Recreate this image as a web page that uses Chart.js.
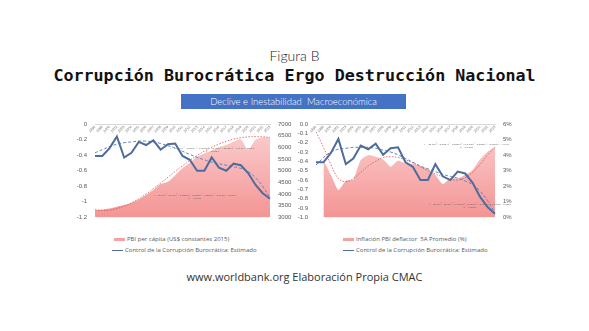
<!DOCTYPE html>
<html>
<head>
<meta charset="utf-8">
<script src="https://cdn.jsdelivr.net/npm/chart.js@4.4.1/dist/chart.umd.min.js"></script>
<style>
  body { margin: 0; background: #fff; width: 589px; height: 331px; position: relative; overflow: hidden; font-family: "Open Sans", sans-serif; }
  .abs { position: absolute; }
  #fig { left: 0; width: 589px; top: 47px; text-align: center; font-family: Lato, sans-serif; font-weight: 300; font-size: 14px; color: #222; }
  #titulo { left: 0; width: 589px; top: 65px; text-align: center; font-family: "DejaVu Sans Mono", monospace; font-weight: bold; font-size: 16.7px; color: #111; }
  #caja { left: 181px; top: 94px; width: 225px; height: 15px; background: #4472c4; color: #fff; text-align: center; font-family: Lato, sans-serif; font-weight: 300; font-size: 9.5px; line-height: 15px; }
  .leg { font-size: 6px; color: #595959; white-space: nowrap; }
  .sw { display: inline-block; width: 11px; vertical-align: middle; margin-right: 2px; }
  #fuente { left: 10px; width: 589px; top: 269px; text-align: center; font-size: 11px; color: #333; }
</style>
</head>
<body>
<div id="fig" class="abs">Figura B</div>
<div id="titulo" class="abs">Corrupción Burocrática Ergo Destrucción Nacional</div>
<div id="caja" class="abs">Declive e Inestabilidad&nbsp; Macroeconómica</div>

<div class="abs" style="left:60px; top:112px; width:240px; height:117px;"><canvas id="graficoA"></canvas></div>
<div class="abs" style="left:290px; top:112px; width:230px; height:117px;"><canvas id="graficoB"></canvas></div>

<div class="abs leg" style="left:114px; top:235px;"><span class="sw" style="height:3px;background:#f4a3a3;"></span>PBI per cápita (US$ constantes 2015)</div>
<div class="abs leg" style="left:112px; top:246px;"><span class="sw" style="height:1px;background:#4e6b9c;"></span>Control de la Corrupción Burocrática: Estimado</div>
<div class="abs leg" style="left:343px; top:235px;"><span class="sw" style="height:3px;background:#f4a3a3;"></span>Inflación PBI deflactor&nbsp; 5A Promedio (%)</div>
<div class="abs leg" style="left:343px; top:246px;"><span class="sw" style="height:1px;background:#4e6b9c;"></span>Control de la Corrupción Burocrática: Estimado</div>

<div id="fuente" class="abs">www.worldbank.org Elaboración Propia CMAC</div>

<script>
// años
const anios = ['1996','1998','2000','2002','2003','2004','2005','2006','2007','2008','2009','2010','2011',
  '2012','2013','2014','2015','2016','2017','2018','2019','2020','2021','2022','2023'];

// Control de la Corrupción: Estimado
const control = [-0.41,-0.41,-0.31,-0.16,-0.43,-0.37,-0.23,-0.27,-0.21,-0.33,-0.26,-0.25,-0.41,
  -0.46,-0.60,-0.60,-0.43,-0.56,-0.60,-0.51,-0.53,-0.63,-0.78,-0.89,-0.96];

// PBI per cápita (US$ constantes 2015)
const pbi = [3310,3340,3380,3460,3530,3630,3770,3960,4170,4430,4530,4810,5100,
  5340,5600,5740,5860,6000,6100,6240,6340,5910,6310,6430,6430];

// Inflación PBI deflactor 5A promedio (%)
const inflacion = [null,3.69,2.72,1.76,2.36,2.44,3.69,4.0,3.9,3.73,3.26,3.64,3.47,
  3.43,3.3,3.09,2.72,2.14,2.5,2.5,2.72,3.04,3.73,4.22,4.54];

// líneas de tendencia
const tendControlA = [-0.37,-0.33,-0.29,-0.26,-0.24,-0.23,-0.22,-0.22,-0.23,-0.25,-0.28,-0.31,-0.35,
  -0.39,-0.43,-0.46,-0.49,-0.51,-0.53,-0.55,-0.57,-0.61,-0.69,-0.80,-0.95];
const tendPbi = [3330,3290,3310,3380,3480,3620,3800,4000,4230,4470,4720,4970,5210,
  5440,5650,5840,6000,6140,6260,6350,6410,6450,6460,6450,6430];
const tendControlB = [-0.44,-0.36,-0.30,-0.27,-0.26,-0.25,-0.25,-0.25,-0.26,-0.28,-0.30,-0.33,-0.37,
  -0.41,-0.45,-0.48,-0.51,-0.54,-0.56,-0.58,-0.61,-0.65,-0.72,-0.82,-0.95];
const tendInflacion = [5.5,4.5,3.4,2.5,2.3,2.5,2.9,3.3,3.6,3.85,3.9,3.85,3.7,
  3.5,3.25,3.0,2.8,2.6,2.45,2.4,2.55,2.9,3.4,4.0,4.5];

// ejes
const ticksIzqA = [0,-0.2,-0.4,-0.6,-0.8,-1,-1.2];
const ticksDerA = [7000,6500,6000,5500,5000,4500,4000,3500,3000];
const ticksIzqB = [0,-0.1,-0.2,-0.3,-0.4,-0.5,-0.6,-0.7,-0.8,-0.9,-1.0];
const ticksDerB = [6,5,4,3,2,1,0];

// ecuaciones de tendencia (ilegibles en el original)
const ecuacionesA = [
  {t: 'y = 0.0004x⁶ - 0.0297x⁵ + 0.8566x⁴ - 12.156x³ + 86.281x² - 246.8x + 3555.3', t2: 'R² = 0.9959', x: 0.67, y: 0.27},
  {t: 'y = 2E-07x⁶ - 2E-05x⁵ + 0.0005x⁴ - 0.0063x³ + 0.0352x² - 0.0709x - 0.3352', t2: 'R² = 0.8707', x: 0.57, y: 0.77}
];
const ecuacionesB = [
  {t: 'y = -2E-06x⁶ + 0.0001x⁵ - 0.0037x⁴ + 0.0468x³ - 0.2806x² + 0.6587x + 4.9167', t2: 'R² = 0.7238', x: 0.84, y: 0.22},
  {t: 'y = 2E-07x⁶ - 2E-05x⁵ + 0.0005x⁴ - 0.0063x³ + 0.0352x² - 0.0709x - 0.3352', t2: 'R² = 0.8707', x: 0.86, y: 0.87}
];

const gris = '#595959';
const azul = '#4e6b9c';

function degradado(ctx) {
  const area = ctx.chart.chartArea;
  if (!area) return 'rgba(246,170,170,0.8)';
  const g = ctx.chart.ctx.createLinearGradient(0, area.top, 0, area.bottom);
  g.addColorStop(0, 'rgba(251,210,210,1)');
  g.addColorStop(1, 'rgba(244,148,148,1)');
  return g;
}

function fijarTicks(lista) {
  return function (s) { s.ticks = lista.map(v => ({value: v})); };
}

function pluginEcuaciones(lista) {
  return {
    id: 'ecuaciones',
    afterDatasetsDraw(chart) {
      const c = chart.ctx, a = chart.chartArea;
      c.save();
      c.font = '2.5px "Open Sans"';
      c.fillStyle = '#666';
      c.textAlign = 'center';
      lista.forEach(e => {
        const x = a.left + e.x * (a.right - a.left);
        const y = a.top + e.y * (a.bottom - a.top);
        c.fillText(e.t, x, y);
        c.fillText(e.t2, x, y + 3);
      });
      c.restore();
    }
  };
}

function opciones(minI, maxI, ticksI, fmtI, minD, maxD, ticksD, fmtD, anchoI, anchoD) {
  return {
    responsive: true,
    maintainAspectRatio: false,
    animation: false,
    layout: { padding: { top: 12, bottom: 5, left: 0, right: 0 } },
    plugins: { legend: { display: false }, tooltip: { enabled: false } },
    elements: { point: { radius: 0 } },
    scales: {
      x: {
        position: { y: 0 },
        offset: false,
        grid: { display: false, drawTicks: false },
        border: { display: true, color: '#d9d9d9', width: 1 },
        ticks: { color: '#777', font: { size: 3.5 }, minRotation: 45, maxRotation: 45, autoSkip: false, padding: 1 }
      },
      y: {
        position: 'left', min: minI, max: maxI,
        afterBuildTicks: fijarTicks(ticksI),
        afterFit: s => { s.width = anchoI; },
        grid: { display: false, drawTicks: false },
        border: { display: false },
        ticks: { color: gris, font: { size: 6 }, padding: 8, autoSkip: false, callback: fmtI }
      },
      y2: {
        position: 'right', min: minD, max: maxD,
        afterBuildTicks: fijarTicks(ticksD),
        afterFit: s => { s.width = anchoD; },
        grid: { display: false, drawTicks: false },
        border: { display: false },
        ticks: { color: gris, font: { size: 6 }, padding: 8, autoSkip: false, callback: fmtD }
      }
    }
  };
}

new Chart(document.getElementById('graficoA'), {
  type: 'line',
  data: {
    labels: anios,
    datasets: [
      { data: control, yAxisID: 'y', borderColor: azul, borderWidth: 2, tension: 0 },
      { data: tendControlA, yAxisID: 'y', borderColor: '#5b84c9', borderWidth: 1, borderDash: [3, 2], tension: 0.4 },
      { data: tendPbi, yAxisID: 'y2', borderColor: '#d9534f', borderWidth: 0.8, borderDash: [1.5, 1.5], tension: 0.4 },
      { data: pbi, yAxisID: 'y2', borderColor: 'rgba(0,0,0,0)', borderWidth: 0, backgroundColor: degradado, fill: { value: 3000 }, tension: 0.3 }
    ]
  },
  options: opciones(-1.2, 0, ticksIzqA, v => String(v), 3000, 7000, ticksDerA, v => String(v), 35, 30),
  plugins: [pluginEcuaciones(ecuacionesA)]
});

new Chart(document.getElementById('graficoB'), {
  type: 'line',
  data: {
    labels: anios,
    datasets: [
      { data: control, yAxisID: 'y', borderColor: azul, borderWidth: 2, tension: 0 },
      { data: tendControlB, yAxisID: 'y', borderColor: '#5b84c9', borderWidth: 1, borderDash: [3, 2], tension: 0.4 },
      { data: tendInflacion, yAxisID: 'y2', borderColor: '#d9534f', borderWidth: 0.8, borderDash: [1.5, 1.5], tension: 0.4 },
      { data: inflacion, yAxisID: 'y2', borderColor: 'rgba(0,0,0,0)', borderWidth: 0, backgroundColor: degradado, fill: { value: 0 }, tension: 0.2 }
    ]
  },
  options: opciones(-1.0, 0, ticksIzqB, v => v.toFixed(1), 0, 6, ticksDerB, v => v + '%', 26, 25),
  plugins: [pluginEcuaciones(ecuacionesB)]
});
</script>
</body>
</html>
